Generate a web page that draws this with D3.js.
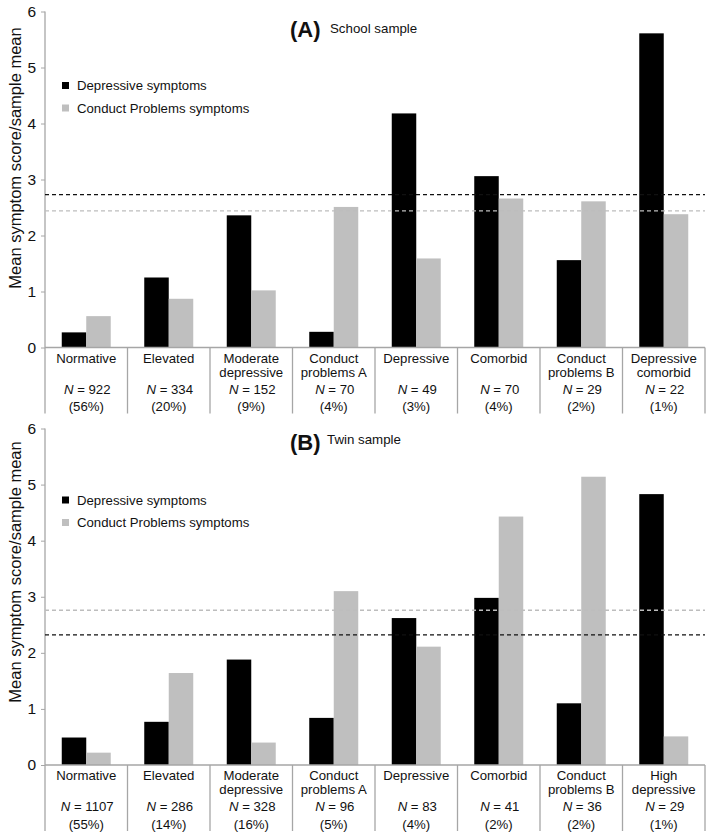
<!DOCTYPE html>
<html><head><meta charset="utf-8">
<script src="https://cdn.jsdelivr.net/npm/d3@7"></script>
<style>body{margin:0;background:#fff}svg{display:block}text{font-family:Arial,"Liberation Sans",sans-serif;fill:#111}</style>
</head><body><svg id="c" width="709" height="832"></svg>
<script>
const series = ["Depressive symptoms", "Conduct Problems symptoms"];
const yTicks = [0, 1, 2, 3, 4, 5, 6];

const catsA = [["Normative"], ["Elevated"], ["Moderate", "depressive"], ["Conduct", "problems A"], ["Depressive"], ["Comorbid"], ["Conduct", "problems B"], ["Depressive", "comorbid"]];
const nA = [922, 334, 152, 70, 49, 70, 29, 22];
const pctA = ["56%", "20%", "9%", "4%", "3%", "4%", "2%", "1%"];
const depA = [0.27, 1.25, 2.36, 0.28, 4.18, 3.06, 1.56, 5.61];
const cpA = [0.56, 0.87, 1.02, 2.51, 1.59, 2.66, 2.61, 2.38];
const meanA = [2.73, 2.44]; // depressive, conduct

const catsB = [["Normative"], ["Elevated"], ["Moderate", "depressive"], ["Conduct", "problems A"], ["Depressive"], ["Comorbid"], ["Conduct", "problems B"], ["High", "depressive"]];
const nB = [1107, 286, 328, 96, 83, 41, 36, 29];
const pctB = ["55%", "14%", "16%", "5%", "4%", "2%", "2%", "1%"];
const depB = [0.49, 0.77, 1.88, 0.84, 2.62, 2.98, 1.10, 4.83];
const cpB = [0.22, 1.64, 0.40, 3.10, 2.11, 4.43, 5.14, 0.51];
const meanB = [2.32, 2.76];

const colors = ["#000000", "#bfbfbf"];
const dashColors = ["#111111", "#bdbdbd"];
const axisColor = "#a6a6a6";

const svg = d3.select("#c");

function panel(cfg) {
  const g = svg.append("g");
  const idx = cfg.cats.map((d, i) => i);
  const x = d3.scaleBand().domain(idx).range([45, 705]).paddingInner(0).paddingOuter(0);
  const xs = d3.scaleBand().domain([0, 1]).range([0, x.bandwidth()]).paddingInner(0).paddingOuter(0.684);
  const y = d3.scaleLinear().domain([0, 6]).range([cfg.y0, cfg.y6]);

  // y axis
  const ya = g.append("g").attr("transform", "translate(45,0)")
    .call(d3.axisLeft(y).tickValues(yTicks).tickFormat(d3.format("d")).tickSize(4).tickPadding(5));
  ya.select(".domain").remove();
  ya.selectAll("line").attr("stroke", axisColor);
  ya.selectAll("text").style("font-size", "15.5px").style("font-family", "Arial, 'Liberation Sans', sans-serif").attr("fill", "#111");

  // y title
  g.append("text")
    .attr("transform", `translate(21,${cfg.titleY}) rotate(-90)`)
    .attr("text-anchor", "middle")
    .style("font-size", "16.5px")
    .text("Mean symptom score/sample mean");

  // bars
  const data = [cfg.dep, cfg.cp];
  data.forEach((vals, s) => {
    g.append("g").selectAll("rect").data(vals).join("rect")
      .attr("x", (d, i) => x(i) + xs(s))
      .attr("width", xs.bandwidth())
      .attr("y", d => y(d))
      .attr("height", d => y(0) - y(d))
      .attr("fill", colors[s]);
  });

  // axis lines
  const bottom = cfg.y0 + cfg.sepLen;
  g.append("line").attr("x1", 45).attr("x2", 705).attr("y1", y(0)).attr("y2", y(0)).attr("stroke", axisColor).attr("stroke-width", 1.3);
  g.append("line").attr("x1", 45).attr("x2", 45).attr("y1", y(6)).attr("y2", bottom).attr("stroke", axisColor).attr("stroke-width", 1.3);
  idx.forEach(i => {
    const xx = x(i) + x.bandwidth();
    g.append("line").attr("x1", xx).attr("x2", xx).attr("y1", y(0)).attr("y2", bottom).attr("stroke", axisColor).attr("stroke-width", 1.3);
  });

  // mean dashed lines
  cfg.means.forEach((m, s) => {
    g.append("line").attr("x1", 45).attr("x2", 705).attr("y1", y(m)).attr("y2", y(m))
      .attr("stroke", dashColors[s]).attr("stroke-width", 1.4).attr("stroke-dasharray", "4,3");
  });

  // category labels
  const fs = "13.2px";
  idx.forEach(i => {
    const cx = x(i) + x.bandwidth() / 2;
    cfg.cats[i].forEach((line, k) => {
      g.append("text").attr("x", cx).attr("y", y(0) + 15 + 14 * k).attr("text-anchor", "middle").style("font-size", fs).text(line);
    });
    const t = g.append("text").attr("x", cx + 1).attr("y", y(0) + 46).attr("text-anchor", "middle").style("font-size", fs);
    t.append("tspan").style("font-style", "italic").text("N");
    t.append("tspan").text(" = " + cfg.n[i]);
    g.append("text").attr("x", cx).attr("y", y(0) + 63.5).attr("text-anchor", "middle").style("font-size", fs).text("(" + cfg.pct[i] + ")");
  });

  // panel title
  g.append("text").attr("x", 290).attr("y", cfg.tY).style("font-size", "22px").style("font-weight", "bold").text(cfg.letter);
  g.append("text").attr("x", cfg.subX).attr("y", cfg.sY).style("font-size", "13.3px").text(cfg.sub);

  // legend
  series.forEach((s, k) => {
    const ly = cfg.legY + k * 22.5;
    g.append("rect").attr("x", 62).attr("y", ly - 3.5).attr("width", 7).attr("height", 7).attr("fill", colors[k]);
    g.append("text").attr("x", 77).attr("y", ly + 4.6).style("font-size", "13.2px").text(s);
  });
}

panel({cats: catsA, n: nA, pct: pctA, dep: depA, cp: cpA, means: meanA, y0: 347.5, y6: 11.5, sepLen: 66,
  titleY: 158, letter: "(A)", sub: "School sample", subX: 330, tY: 37, sY: 32.5, legY: 85.5});
panel({cats: catsB, n: nB, pct: pctB, dep: depB, cp: cpB, means: meanB, y0: 765, y6: 428.5, sepLen: 66,
  titleY: 572, letter: "(B)", sub: "Twin sample", subX: 327, tY: 449.5, sY: 443.5, legY: 500});
</script></body></html>
